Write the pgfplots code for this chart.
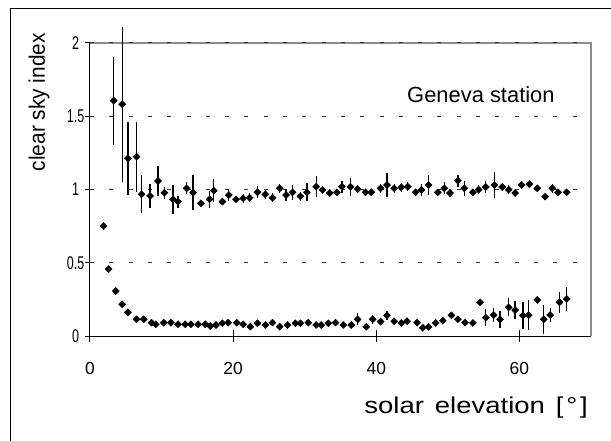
\documentclass[border=0pt]{standalone}
\usepackage{pgfplots}
\usepackage{pgfplotstable}
\pgfplotsset{compat=1.18}
\usepackage{fontspec}
\setmainfont{Liberation Sans}

\pgfplotstableread{
x y e
3.3 1.607 0.30
4.5 1.582 0.53
5.3 1.213 0.25
6.5 1.224 0.24
7.2 0.967 0.13
8.4 0.956 0.08
9.5 1.058 0.10
10.4 0.978 0.04
11.6 0.933 0.10
12.3 0.917 0.04
13.5 1.008 0.04
14.4 0.978 0.12
15.5 0.906 0.02
16.7 0.933 0.06
17.3 0.992 0.08
18.5 0.917 0.02
19.4 0.962 0.04
20.4 0.933 0.02
21.4 0.940 0.03
22.3 0.944 0.03
23.4 0.981 0.04
24.5 0.967 0.03
25.5 0.944 0.03
26.5 1.008 0.03
27.4 0.962 0.04
28.3 0.981 0.05
29.4 0.954 0.03
30.3 0.981 0.06
31.6 1.019 0.07
32.5 0.997 0.03
33.5 0.976 0.02
34.5 0.981 0.02
35.2 1.019 0.04
36.4 1.019 0.06
37.4 1.003 0.03
38.5 0.981 0.02
39.3 0.981 0.02
40.6 1.008 0.03
41.5 1.031 0.08
42.5 1.008 0.03
43.5 1.015 0.03
44.4 1.019 0.03
45.5 0.981 0.02
46.3 0.997 0.04
47.3 1.031 0.07
48.6 0.981 0.02
49.5 1.008 0.04
50.3 0.976 0.03
51.4 1.060 0.04
52.3 1.008 0.05
53.5 0.981 0.02
54.3 0.999 0.03
55.3 1.017 0.04
56.5 1.031 0.09
57.6 1.017 0.03
58.5 0.999 0.03
59.4 0.976 0.02
60.3 1.031 0.03
61.4 1.036 0.02
62.5 1.008 0.02
63.6 0.951 0.02
64.6 1.008 0.03
65.4 0.981 0.02
66.6 0.981 0.02
}\upperdata

\pgfplotstableread{
x y e
1.9 0.751 0.03
2.6 0.457 0.02
3.6 0.307 0.02
4.5 0.216 0.02
5.3 0.162 0.02
6.5 0.114 0.02
7.5 0.114 0.02
8.6 0.091 0.02
9.2 0.080 0.02
10.3 0.091 0.02
11.3 0.091 0.02
12.3 0.080 0.02
13.3 0.080 0.02
14.1 0.080 0.02
15.1 0.080 0.02
16.1 0.080 0.02
16.8 0.068 0.02
17.6 0.075 0.02
18.5 0.087 0.02
19.3 0.091 0.02
20.5 0.091 0.02
21.4 0.080 0.02
22.4 0.064 0.02
23.4 0.087 0.02
24.5 0.075 0.02
25.5 0.091 0.02
26.5 0.064 0.02
27.6 0.075 0.02
28.7 0.087 0.02
29.4 0.087 0.02
30.5 0.091 0.02
31.6 0.075 0.02
32.3 0.075 0.02
33.3 0.087 0.02
34.3 0.091 0.02
35.4 0.075 0.02
36.5 0.075 0.02
37.4 0.114 0.04
38.6 0.062 0.02
39.5 0.114 0.03
40.6 0.098 0.02
41.5 0.141 0.03
42.5 0.100 0.02
43.5 0.089 0.02
44.3 0.101 0.02
45.7 0.091 0.02
46.5 0.056 0.02
47.3 0.062 0.02
48.3 0.089 0.02
49.3 0.104 0.02
50.5 0.141 0.02
51.4 0.114 0.02
52.4 0.091 0.02
53.5 0.089 0.02
54.5 0.230 0.02
55.3 0.125 0.06
56.4 0.143 0.05
57.3 0.114 0.06
58.5 0.196 0.06
59.4 0.177 0.06
60.5 0.140 0.09
61.3 0.143 0.10
62.5 0.246 0.03
63.4 0.114 0.10
64.3 0.143 0.05
65.6 0.230 0.07
66.6 0.253 0.08
}\lowerdata

\begin{document}
\begin{tikzpicture}
% outer frame (left and top edges)
\draw[black, line width=1bp] (-79bp,-105bp) -- (-79bp,327bp) -- (521bp,327bp);
% plot area frame top/right
\draw[black!45, line width=1.2bp] (0,293bp) -- (501bp,293bp) -- (501bp,0);
\begin{axis}[
  at={(0,0)}, anchor=south west,
  scale only axis, width=501bp, height=293bp,
  xmin=0, xmax=70, ymin=0, ymax=2,
  axis x line*=bottom, axis y line*=left,
  axis line style={black, line width=1bp, -},
  xtick={0,20,40,60}, ytick={0,0.5,1,1.5,2},
  minor tick num=0,
  xtick align=center, ytick align=outside,
  xtick style={black, line width=1bp, /pgfplots/major tick length=12bp},
  ytick style={black, line width=1bp, /pgfplots/major tick length=5bp},
  ymajorgrids,
  major grid style={black!80, line width=1bp, dash pattern=on 4bp off 15.3bp},
  /pgf/number format/assume math mode=true,
  tick label style={font=\fontsize{18}{18}\selectfont, inner sep=0pt},
  xticklabel style={font=\fontsize{17.5}{17.5}\selectfont},
  yticklabel={\makebox[20bp][c]{\scalebox{0.68}[1]{\fontsize{18.5}{18.5}\selectfont\pgfmathprintnumber{\tick}}}},
  yticklabel style={xshift=0bp},
  xticklabel style={anchor=north, yshift=-24bp},
  clip=false,
]
\addplot[only marks, black, mark=square*, mark size=2.5bp,
  mark options={rotate=45, fill=black, draw=black},
  error bars/.cd, y dir=both, y explicit, error mark=none,
  error bar style={line width=1.3bp, black}]
  table[x=x, y=y, y error=e] {\upperdata};
\addplot[only marks, black, mark=square*, mark size=2.5bp,
  mark options={rotate=45, fill=black, draw=black},
  error bars/.cd, y dir=both, y explicit, error mark=none,
  error bar style={line width=1.3bp, black}]
  table[x=x, y=y, y error=e] {\lowerdata};
\end{axis}
\node[anchor=base west, inner sep=0pt, font=\fontsize{22}{22}\selectfont] at (317bp,233bp) {Geneva station};
\node[anchor=base east, inner sep=0pt] at (498bp,-77bp) {\scalebox{1.2}[1]{\fontsize{23}{23}\selectfont solar\hspace{0.4em}elevation\hspace{0.4em}[\hspace{0.1em}°\hspace{0.1em}]}};
\node[rotate=90, anchor=base east, inner sep=0pt] at (-45bp,303bp) {\scalebox{0.93}[1]{\fontsize{22.5}{22.5}\selectfont clear sky index}};
\pgfresetboundingbox
\path[use as bounding box] (-90bp,-105bp) rectangle (521bp,336bp);
\end{tikzpicture}
\end{document}
